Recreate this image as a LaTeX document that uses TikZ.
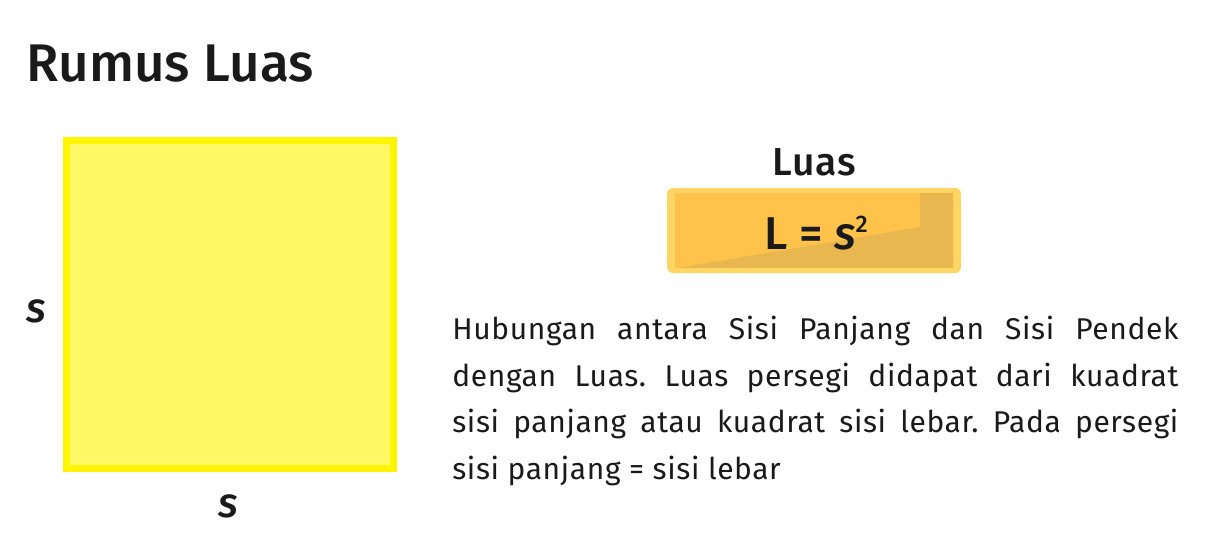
\documentclass[tikz,border=0pt]{standalone}
\usepackage{fontspec}
\setmainfont{Fira Sans}
\newfontfamily\headfont{Fira Sans SemiBold}
\newfontfamily\medfont{Fira Sans Medium}
\usetikzlibrary{positioning}
\definecolor{ink}{HTML}{1A1A1A}
\definecolor{sqfill}{HTML}{FFF966}
\definecolor{sqline}{HTML}{FFF500}
\definecolor{boxrim}{HTML}{FFD563}
\definecolor{boxfill}{HTML}{FFC34B}
\definecolor{boxdark}{HTML}{E9B74F}
\frenchspacing
\tikzset{
  lbl/.style={text=ink, inner sep=0pt},
  side/.style={lbl, font=\medfont\itshape\fontsize{21bp}{21bp}\selectfont}
}
\begin{document}
\begin{tikzpicture}[x=0.5bp,y=-0.5bp]
  \useasboundingbox[fill=white] (0,0) rectangle (1228,539);
  % title
  \node[lbl, anchor=base west, font=\medfont\fontsize{26.5bp}{30bp}\selectfont] (title) at (26,82) {Rumus Luas};
  % the square and its sides
  \node (sq) [draw=sqline, fill=sqfill, line width=3.5bp, minimum width=163.5bp, minimum height=163.5bp, inner sep=0pt] at (230,304.5) {};
  \node[side, anchor=base] (sl) at (36,322) {s};
  \node[side, anchor=base] (sb) at (228,517) {s};
  % formula box
  \node (box) [fill=boxrim, rounded corners=3bp, minimum width=147bp, minimum height=42.5bp, inner sep=0pt] at (814,230.5) {};
  \fill[boxfill] (675,193) rectangle (953,268);
  \fill[boxdark] (920,193) -- (953,193) -- (953,268) -- (678,268) -- (920,227) -- cycle;
  \node[lbl, anchor=base, font=\medfont\fontsize{23bp}{23bp}\selectfont] (f) at (816,250)
    {L = {\itshape s}\raisebox{8.5bp}{\fontsize{12bp}{12bp}\selectfont 2}};
  \node[lbl, anchor=base, font=\medfont\fontsize{19.5bp}{20bp}\selectfont\addfontfeatures{LetterSpace=2}] (luas) at (814,176) {Luas};
  % text
  \node[lbl, anchor=north west, text width=363bp, align=justify, font=\fontsize{15bp}{23.25bp}\selectfont\addfontfeatures{LetterSpace=2}] (txt) at (452,316)
    {Hubungan antara Sisi Panjang dan Sisi Pendek\linebreak
     dengan Luas. Luas persegi didapat dari kuadrat\linebreak
     sisi panjang atau kuadrat sisi lebar. Pada persegi\linebreak
     sisi panjang = sisi lebar};
\end{tikzpicture}
\end{document}
